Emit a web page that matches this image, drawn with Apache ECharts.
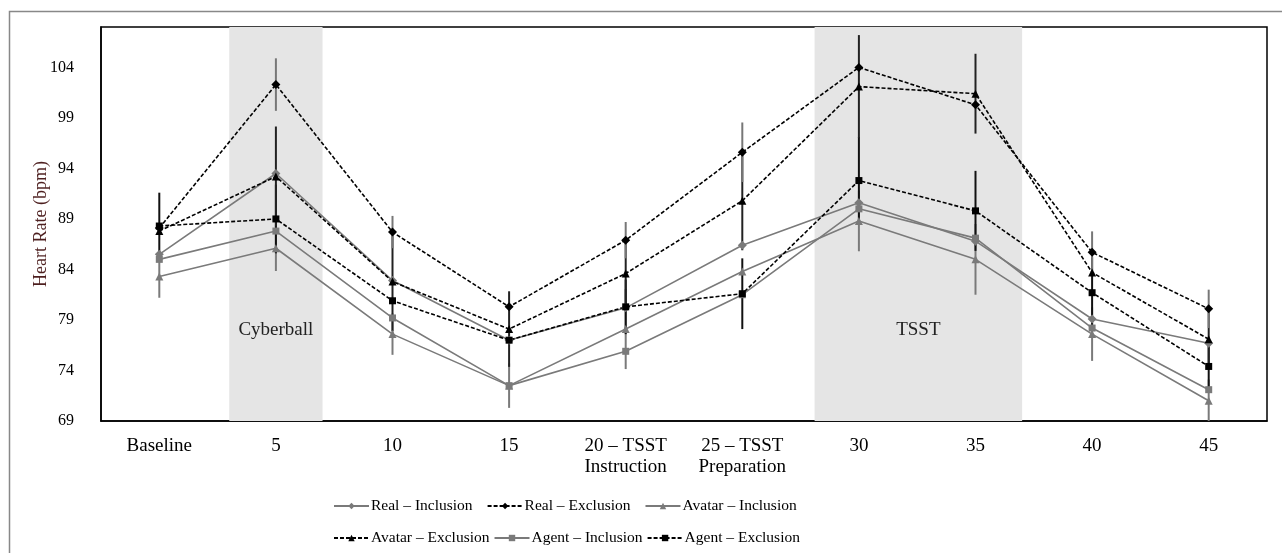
<!DOCTYPE html>
<html>
<head>
<meta charset="utf-8">
<script src="https://cdn.jsdelivr.net/npm/echarts@6/dist/echarts.min.js"></script>
<style>
html,body{margin:0;padding:0;background:#fff;}
#chart{width:1282px;height:553px;}
</style>
</head>
<body>
<div id="chart"></div>
<script>
// ---- data ----
var categories = ['Baseline', '5', '10', '15', '20 – TSST\nInstruction', '25 – TSST\nPreparation', '30', '35', '40', '45'];
var seriesNames = ['Real – Inclusion', 'Real – Exclusion', 'Avatar – Inclusion', 'Avatar – Exclusion', 'Agent – Inclusion', 'Agent – Exclusion'];
var realIncl   = [85.5, 93.5, 82.9, 77.0, 80.2, 86.4, 90.6, 86.8, 79.1, 76.7];
var realExcl   = [88.1, 102.3, 87.7, 80.3, 86.9, 95.6, 104.0, 100.3, 85.7, 80.1];
var avatarIncl = [83.3, 86.1, 77.6, 72.5, 78.1, 83.8, 88.8, 85.0, 77.6, 71.0];
var avatarExcl = [87.8, 93.2, 82.8, 78.1, 83.6, 90.8, 102.1, 101.4, 83.7, 77.1];
var agentIncl  = [85.0, 87.8, 79.2, 72.5, 75.9, 81.5, 90.0, 87.1, 78.2, 72.1];
var agentExcl  = [88.3, 89.0, 80.9, 77.0, 80.3, 81.6, 92.8, 89.8, 81.7, 74.4];
// visible error bars (half widths), null = not shown
var realExclErr   = [null, 2.6, 1.6, null, 1.8, 2.95, null, null, 2.07, 1.9];
var avatarExclErr = [null, 4.95, 4.9, 3.74, 3.3, 4.9, 5.1, 3.95, null, 3.0];
var agentExclErr  = [3.3, 3.4, null, null, 2.7, 3.5, 4.3, 3.96, 3.5, 2.5];
var avatarInclErr = [2.1, 2.25, 2.05, 2.2, 3.96, null, 3.0, 3.5, 2.65, 2.1];
// shaded phases (in category units)
var bandNames = ['Cyberball', 'TSST'];
var bandStart = [0.6, 5.62];
var bandEnd   = [1.4, 7.4];
// y ticks
var yMin = 69, yMax = 108, yStep = 5;

// ---- chart ----
var FONT = '"Liberation Serif", "Times New Roman", serif';
var GRAY = '#7a7a7a';
var chart = echarts.init(document.getElementById('chart'));

function lineSeries(name, data, dashed, symbol, size) {
  var col = dashed ? '#000' : GRAY;
  return {
    name: name, type: 'line', data: data, z: 3,
    symbol: symbol, symbolSize: size,
    itemStyle: { color: col },
    lineStyle: { color: col, width: 1.6, type: dashed ? [4, 2] : 'solid' },
    emphasis: { disabled: true }
  };
}
function errSeries(vals, errs, color) {
  var d = [];
  errs.forEach(function (e, i) { if (e != null) d.push([i, vals[i] - e, vals[i] + e]); });
  return {
    type: 'custom', data: d, z: 2, clip: true, silent: true,
    encode: { x: 0, y: [1, 2] },
    renderItem: function (params, api) {
      var p1 = api.coord([api.value(0), api.value(2)]);
      var p2 = api.coord([api.value(0), api.value(1)]);
      return { type: 'line', shape: { x1: p1[0], y1: p1[1], x2: p2[0], y2: p2[1] },
               style: { stroke: color, lineWidth: 2 } };
    }
  };
}

var bandData = bandNames.map(function (n, i) {
  return [{ name: n, xAxis: bandStart[i] }, { xAxis: bandEnd[i] }];
});

var legendCommon = {
  left: 333, padding: 0, itemWidth: 35, itemHeight: 8, itemGap: 12,
  textStyle: { fontFamily: FONT, fontSize: 15.5, color: '#000', padding: [0, 0, 0, -3] }
};

var option = {
  animation: false,
  backgroundColor: '#fff',
  grid: { left: 101, top: 27, right: 15, bottom: 132, show: true, borderColor: '#000', borderWidth: 1.5, backgroundColor: 'transparent' },
  legend: [
    Object.assign({}, legendCommon, { top: 498, data: seriesNames.slice(0, 3), itemGap: 14 }),
    Object.assign({}, legendCommon, { top: 530, data: seriesNames.slice(3, 6), itemGap: 4 })
  ],
  graphic: [{
    type: 'rect', left: 7, top: 9, silent: true,
    shape: { width: 1300, height: 560 },
    style: { fill: 'none', stroke: '#888', lineWidth: 1.5 }
  }],
  xAxis: [{
    type: 'category', data: categories, boundaryGap: true,
    axisLine: { onZero: false, lineStyle: { color: '#000', width: 1.5 } },
    axisTick: { alignWithLabel: true, length: 5, lineStyle: { color: '#000', width: 1.2 } },
    axisLabel: { fontFamily: FONT, fontSize: 19, lineHeight: 21, color: '#000', margin: 15, interval: 0 },
    splitLine: { show: false }
  }, {
    type: 'value', min: -0.5, max: 9.5, show: false
  }],
  yAxis: {
    type: 'value', min: yMin, max: yMax, interval: yStep,
    name: 'Heart Rate (bpm)', nameLocation: 'middle', nameGap: 51, nameMoveOverlap: false,
    nameTextStyle: { fontFamily: FONT, fontSize: 18, color: '#4d1f1f' },
    axisLine: { show: true, onZero: false, lineStyle: { color: '#000', width: 1.5 } },
    axisTick: { show: false },
    axisLabel: { fontFamily: FONT, fontSize: 16, color: '#000', margin: 27, showMaxLabel: false },
    splitLine: { show: false }
  },
  series: [
    {
      type: 'line', xAxisIndex: 1, data: [], z: 0, silent: true,
      markArea: {
        silent: true,
        itemStyle: { color: '#e5e5e5' },
        label: { show: true, position: 'inside', offset: [0, 106], color: '#222', fontFamily: FONT, fontSize: 19 },
        data: bandData
      }
    },
    errSeries(avatarIncl, avatarInclErr, GRAY),
    errSeries(agentExcl, agentExclErr, '#111'),
    errSeries(avatarExcl, avatarExclErr, '#222'),
    errSeries(realExcl, realExclErr, '#777'),
    lineSeries(seriesNames[0], realIncl, false, 'diamond', 9),
    lineSeries(seriesNames[1], realExcl, true, 'diamond', 9),
    lineSeries(seriesNames[2], avatarIncl, false, 'triangle', 8),
    lineSeries(seriesNames[3], avatarExcl, true, 'triangle', 8),
    lineSeries(seriesNames[4], agentIncl, false, 'rect', 7),
    lineSeries(seriesNames[5], agentExcl, true, 'rect', 7)
  ]
};
chart.setOption(option);
</script>
</body>
</html>
